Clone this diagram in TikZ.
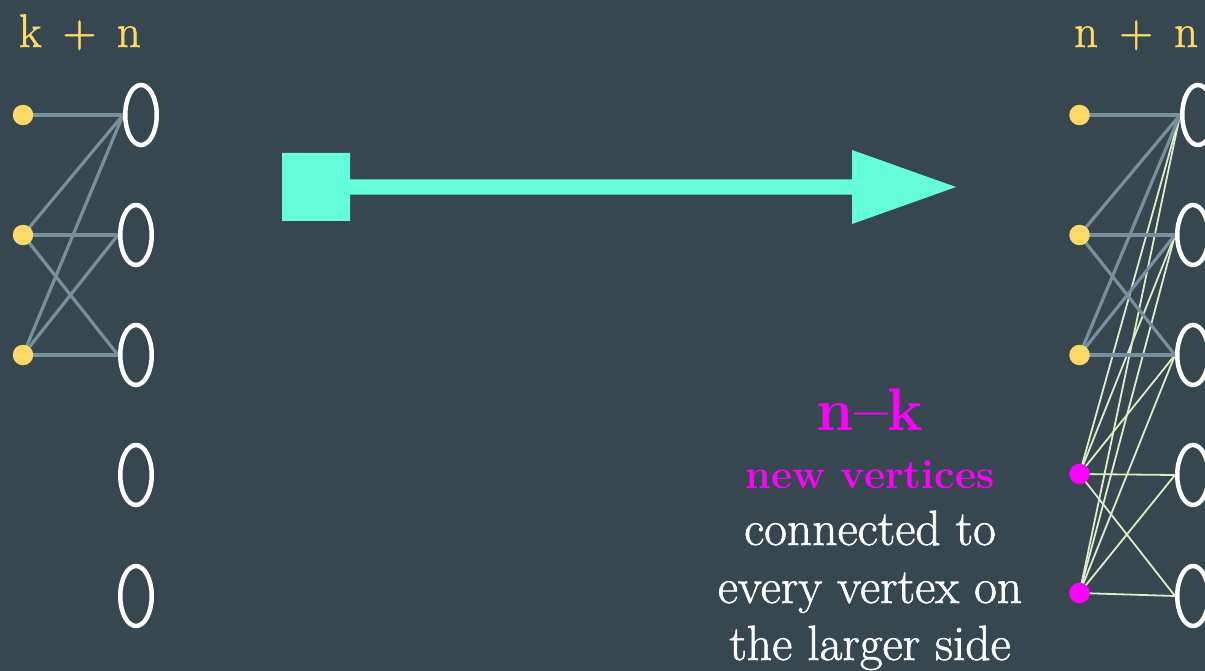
\documentclass[tikz,border=0pt]{standalone}
\usepackage{fontspec}
\usetikzlibrary{shapes.geometric}
\newfontfamily\heavyrm{Latin Modern Roman}[RawFeature={embolden=1.2}]
\definecolor{bgc}{HTML}{37474F}
\definecolor{ylw}{HTML}{FFD966}
\definecolor{mag}{HTML}{FF00FF}
\definecolor{gedgec}{HTML}{78909C}
\definecolor{pedgec}{HTML}{DCEDC8}
\definecolor{arrc}{HTML}{64FFDA}
\pgfdeclarelayer{back}
\pgfdeclarelayer{edges}
\pgfsetlayers{back,edges,main}
\tikzset{
  oval/.style={ellipse, draw=white, line width=4.5pt, minimum width=31.5pt, minimum height=60pt, inner sep=0pt},
  ydot/.style={circle, fill=ylw, minimum size=20.5pt, inner sep=0pt},
  mdot/.style={circle, fill=mag, minimum size=20.5pt, inner sep=0pt},
  gedge/.style={draw=gedgec, line width=3.2pt},
  pedge/.style={draw=pedgec, line width=1.8pt},
  toplabel/.style={anchor=base west, inner sep=0pt, text=ylw, font=\heavyrm\fontsize{47}{52}\selectfont},
  whitetxt/.style={anchor=base, inner sep=0pt, text=white, font=\heavyrm\fontsize{49.5}{56}\selectfont}
}
\begin{document}
\begin{tikzpicture}[x=1pt,y=-1pt]
\begin{pgfonlayer}{back}
\fill[bgc] (0,0) rectangle (1205,671);
\end{pgfonlayer}
\useasboundingbox (0,0) rectangle (1205,671);

% left side
\node[toplabel] (tl) at (5.4,47) {\makebox[49.3pt]{k}\makebox[49.3pt]{+}\makebox[49.3pt]{n}};
\node[ydot] (a1) at (23,115) {};
\node[ydot] (a2) at (23,235) {};
\node[ydot] (a3) at (23,355) {};
\node[oval] (L1) at (141,115) {};
\node[oval] (L2) at (136,235) {};
\node[oval] (L3) at (136,355) {};
\node[oval] (L4) at (136,475) {};
\node[oval] (L5) at (136,596) {};

% right side
\node[toplabel] (tr) at (1061,47) {\makebox[50pt]{n}\makebox[50pt]{+}\makebox[50pt]{n}};
\node[ydot] (b1) at (1079.5,115) {};
\node[ydot] (b2) at (1079.5,235) {};
\node[ydot] (b3) at (1079.5,355) {};
\node[mdot] (m1) at (1079.5,474) {};
\node[mdot] (m2) at (1079.5,593) {};
\node[oval] (R1) at (1198,115) {};
\node[oval] (R2) at (1193,235) {};
\node[oval] (R3) at (1193,355) {};
\node[oval] (R4) at (1193,475) {};
\node[oval] (R5) at (1193,596) {};

\begin{pgfonlayer}{edges}
\draw[gedge] (a1.center) -- (L1.west);
\draw[gedge] (a2.center) -- (L1.west);
\draw[gedge] (a2.center) -- (L2.west);
\draw[gedge] (a2.center) -- (L3.west);
\draw[gedge] (a3.center) -- (L1.west);
\draw[gedge] (a3.center) -- (L2.west);
\draw[gedge] (a3.center) -- (L3.west);
\foreach \m in {m1,m2}{
  \foreach \r in {R1,R2,R3,R4,R5}{
    \draw[pedge] (\m.center) -- (\r.west);
  }
}
\draw[gedge] (b1.center) -- (R1.west);
\draw[gedge] (b2.center) -- (R1.west);
\draw[gedge] (b2.center) -- (R2.west);
\draw[gedge] (b2.center) -- (R3.west);
\draw[gedge] (b3.center) -- (R1.west);
\draw[gedge] (b3.center) -- (R2.west);
\draw[gedge] (b3.center) -- (R3.west);
\end{pgfonlayer}

% big arrow
\fill[arrc] (282,153) -- (350,153) -- (350,179.3) -- (852,179.3) -- (852,150) -- (956,187)
  -- (852,224) -- (852,194.7) -- (350,194.7) -- (350,221) -- (282,221) -- cycle;

% text
\node[anchor=base, inner sep=0pt, text=mag, font=\bfseries\fontsize{60}{66}\selectfont] (nk) at (870,430) {n\textendash k};
\node[anchor=base, inner sep=0pt, text=mag, font=\bfseries\fontsize{41}{48}\selectfont] (nv) at (870,488) {new vertices};
\node[whitetxt] (w1) at (870,545) {connected to};
\node[whitetxt] (w2) at (870,603) {every vertex on};
\node[whitetxt] (w3) at (870,660) {the larger side};
\end{tikzpicture}
\end{document}
